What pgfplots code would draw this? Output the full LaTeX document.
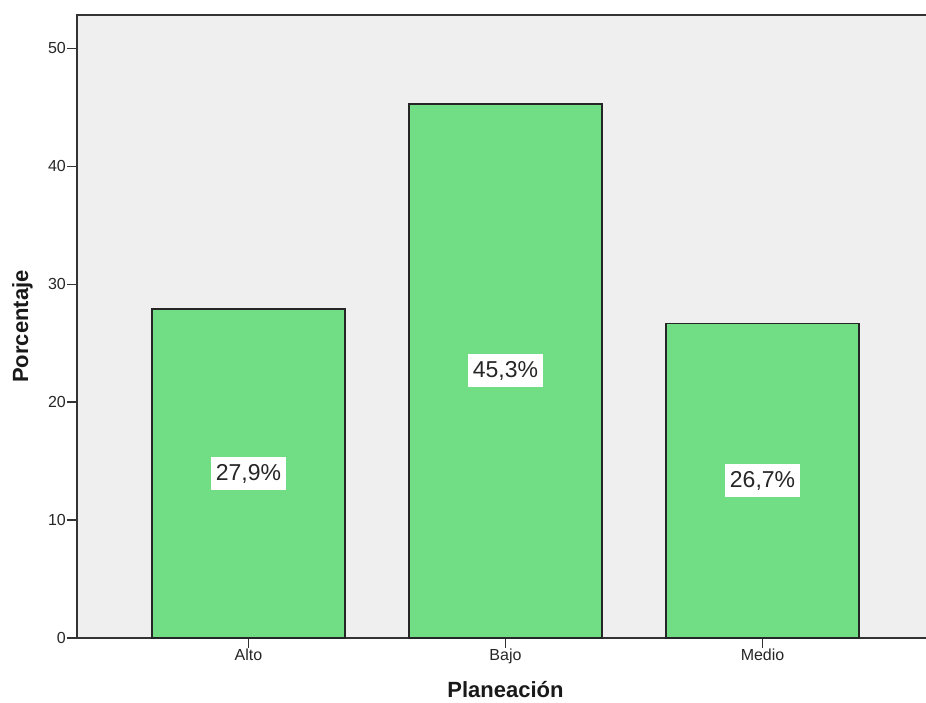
\documentclass[border=0pt]{standalone}
\usepackage{pgfplots}
\pgfplotsset{compat=1.18}
\usepackage{fontspec}
\setmainfont{Liberation Sans}
\definecolor{barg}{RGB}{113,221,133}
\definecolor{plotbg}{RGB}{239,239,239}
\definecolor{axcol}{RGB}{51,51,51}
\begin{document}
\begin{tikzpicture}
\path[use as bounding box] (-77pt,-65pt) rectangle (849pt,638pt);
\begin{axis}[
  at={(0pt,0pt)}, anchor=south west,
  scale only axis, width=857pt, height=623pt,
  xmin=-0.667, xmax=2.667, ymin=0, ymax=52.84,
  axis background/.style={fill=plotbg},
  axis line style={axcol, line width=1.3pt},
  every tick/.append style={draw=axcol, line width=1.4pt},
  tick align=outside, tick pos=left,
  major tick length=10pt,
  xtick={0,1,2}, xticklabels={Alto,Bajo,Medio},
  ytick={0,10,20,30,40,50},
  /pgf/number format/assume math mode=true,
  ticklabel style={font=\fontsize{16}{19}\selectfont, text=black!85, inner sep=1pt},
  xlabel={\textbf{Planeación}},
  ylabel={\textbf{Porcentaje}},
  every axis x label/.style={at={(rel axis cs:0.5,0)}, anchor=base, yshift=-60pt, font=\fontsize{22}{26}\selectfont, text=black!90},
  every axis y label/.style={at={(rel axis cs:0,0.5)}, xshift=-44pt, anchor=south, rotate=90, inner sep=0pt, font=\fontsize{22}{26}\selectfont, text=black!90},
  clip=false,
]
\addplot[ybar, bar shift=0pt, bar width=193pt, fill=barg, draw=black!85, line width=1.3pt]
  coordinates {(0,27.9) (1,45.3) (2,26.7)};
\addplot[only marks, mark=none, point meta=explicit symbolic,
  nodes near coords,
  every node near coord/.style={anchor=center, fill=white, inner xsep=4.5pt, inner ysep=0pt, minimum height=33pt, font=\fontsize{23}{27}\selectfont, text=black!85}]
  coordinates {(0,13.95) [27,9\%] (1,22.65) [45,3\%] (2,13.35) [26,7\%]};
\end{axis}
\end{tikzpicture}
\end{document}
